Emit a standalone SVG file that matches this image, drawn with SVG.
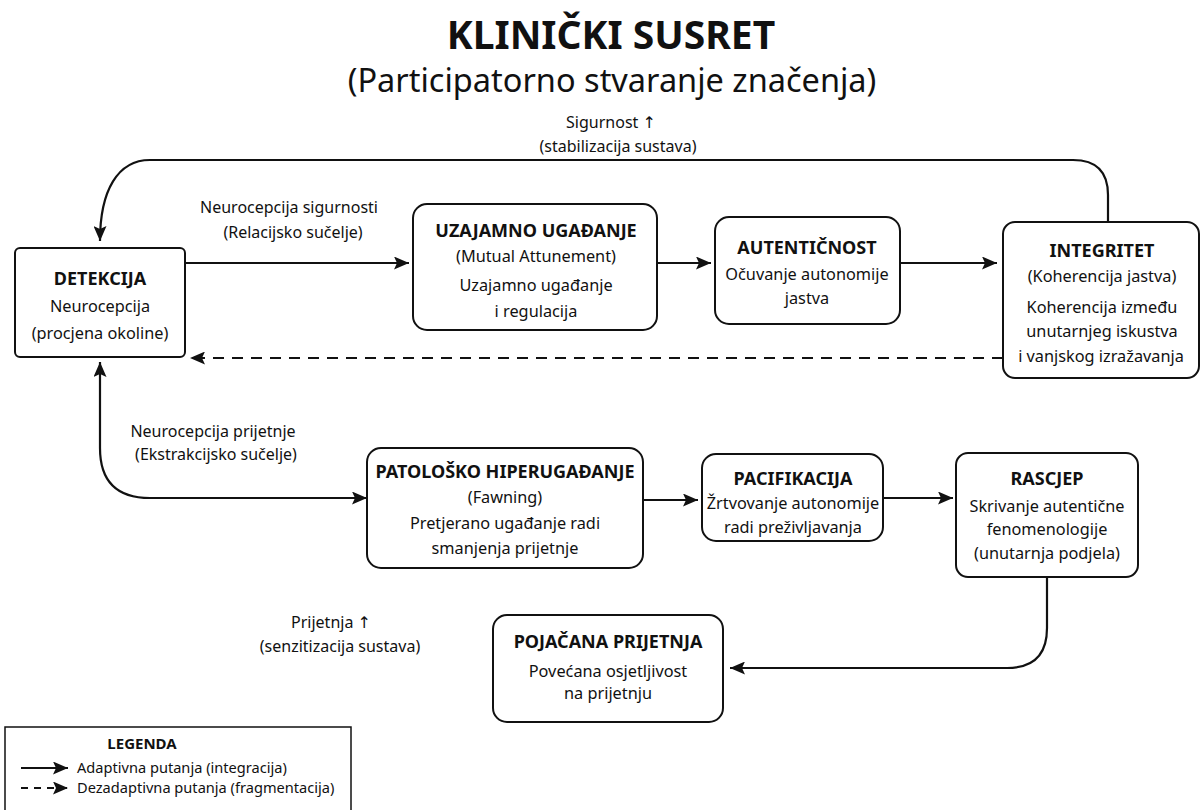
<svg xmlns="http://www.w3.org/2000/svg" width="1202" height="810" viewBox="0 0 1202 810">
<defs>
<marker id="ah" viewBox="0 0 15 13" refX="15" refY="6.5" markerWidth="15" markerHeight="13" markerUnits="userSpaceOnUse" orient="auto-start-reverse">
<path d="M0,0 L15,6.5 L0,13 L3,6.5 Z" fill="#111"/>
</marker>
<style>
text{font-family:"Noto Sans","Open Sans","DejaVu Sans",sans-serif;fill:#111;text-anchor:middle}
.box{fill:#fff;stroke:#111;stroke-width:2}
.t{font-size:18px;font-weight:bold}
.s{font-size:16.3px}
.lbl{font-size:16px}
.c{fill:none;stroke:#111;stroke-width:2.2}
.d{stroke-dasharray:11,8}
.lg{font-size:14.6px;text-anchor:start}
</style>
</defs>
<rect width="1202" height="810" fill="#fff"/>
<text x="611" y="49" style="font-size:39px;font-weight:bold">KLINIČKI SUSRET</text>
<text x="612" y="92" style="font-size:32.5px">(Participatorno stvaranje značenja)</text>

<g id="connectors">
<path class="c" d="M1108,222 V195 Q1108,160 1073,160 H150 C118,160 100,190 100,241" marker-end="url(#ah)"/>
<path class="c" d="M185,263 H409" marker-end="url(#ah)"/>
<path class="c" d="M657,263 H711" marker-end="url(#ah)"/>
<path class="c" d="M900,263 H997" marker-end="url(#ah)"/>
<path class="c d" d="M1003,358 H190" marker-end="url(#ah)"/>
<path class="c" d="M100,362 V448 Q100,498 150,498 H367" marker-start="url(#ah)" marker-end="url(#ah)"/>
<path class="c" d="M643,500 H698" marker-end="url(#ah)"/>
<path class="c" d="M883,498 H953" marker-end="url(#ah)"/>
<path class="c" d="M1047,578 V628 Q1047,668 1007,668 H730" marker-end="url(#ah)"/>
</g>

<g id="edge-labels">
<text class="lbl" x="611" y="128">Sigurnost ↑</text>
<text class="lbl" x="618" y="152">(stabilizacija sustava)</text>
<text class="lbl" x="289" y="213">Neurocepcija sigurnosti</text>
<text class="lbl" x="293" y="238">(Relacijsko sučelje)</text>
<text class="lbl" x="213" y="437">Neurocepcija prijetnje</text>
<text class="lbl" x="216" y="460">(Ekstrakcijsko sučelje)</text>
<text class="lbl" x="331" y="628">Prijetnja ↑</text>
<text class="lbl" x="340" y="652">(senzitizacija sustava)</text>
</g>

<g id="detekcija">
<rect class="box" x="15" y="248" width="170" height="109" rx="5"/>
<text class="t" x="100" y="285">DETEKCIJA</text>
<text class="s" x="100" y="312">Neurocepcija</text>
<text class="s" x="100" y="339">(procjena okoline)</text>
</g>

<g id="uzajamno">
<rect class="box" x="413" y="204" width="244" height="126" rx="14"/>
<text class="t" x="536" y="237">UZAJAMNO UGAĐANJE</text>
<text class="s" x="536" y="262">(Mutual Attunement)</text>
<text class="s" x="536" y="291">Uzajamno ugađanje</text>
<text class="s" x="536" y="317">i regulacija</text>
</g>

<g id="autenticnost">
<rect class="box" x="715" y="217" width="185" height="107" rx="14"/>
<text class="t" x="807" y="254">AUTENTIČNOST</text>
<text class="s" x="807" y="280">Očuvanje autonomije</text>
<text class="s" x="807" y="304">jastva</text>
</g>

<g id="integritet">
<rect class="box" x="1003" y="222" width="196" height="156" rx="12"/>
<text class="t" x="1102" y="257">INTEGRITET</text>
<text class="s" x="1102" y="282">(Koherencija jastva)</text>
<text class="s" x="1102" y="313">Koherencija između</text>
<text class="s" x="1102" y="337">unutarnjeg iskustva</text>
<text class="s" x="1101" y="362">i vanjskog izražavanja</text>
</g>

<g id="patolosko">
<rect class="box" x="367" y="448" width="276" height="120" rx="14"/>
<text class="t" x="505" y="478">PATOLOŠKO HIPERUGAĐANJE</text>
<text class="s" x="505" y="503">(Fawning)</text>
<text class="s" x="505" y="529">Pretjerano ugađanje radi</text>
<text class="s" x="505" y="554">smanjenja prijetnje</text>
</g>

<g id="pacifikacija">
<rect class="box" x="702" y="454" width="181" height="87" rx="14"/>
<text class="t" x="793" y="485">PACIFIKACIJA</text>
<text class="s" x="793" y="509">Žrtvovanje autonomije</text>
<text class="s" x="793" y="533">radi preživljavanja</text>
</g>

<g id="rascjep">
<rect class="box" x="956" y="453" width="182" height="124" rx="12"/>
<text class="t" x="1047" y="485">RASCJEP</text>
<text class="s" x="1047" y="512">Skrivanje autentične</text>
<text class="s" x="1047" y="535">fenomenologije</text>
<text class="s" x="1047" y="559">(unutarnja podjela)</text>
</g>

<g id="pojacana">
<rect class="box" x="493" y="615" width="230" height="107" rx="14"/>
<text class="t" x="608" y="648">POJAČANA PRIJETNJA</text>
<text class="s" x="608" y="677">Povećana osjetljivost</text>
<text class="s" x="608" y="699">na prijetnju</text>
</g>

<g id="legend">
<rect x="5" y="727" width="346" height="100" fill="#fff" stroke="#111" stroke-width="1.5"/>
<text x="142" y="749" style="font-size:15px;font-weight:bold">LEGENDA</text>
<path class="c" d="M21,768 H68" marker-end="url(#ah)"/>
<text class="lg" x="77" y="773">Adaptivna putanja (integracija)</text>
<path class="c" d="M21,788 H68" stroke-dasharray="7,6" marker-end="url(#ah)"/>
<text class="lg" x="77" y="793">Dezadaptivna putanja (fragmentacija)</text>
</g>
</svg>
